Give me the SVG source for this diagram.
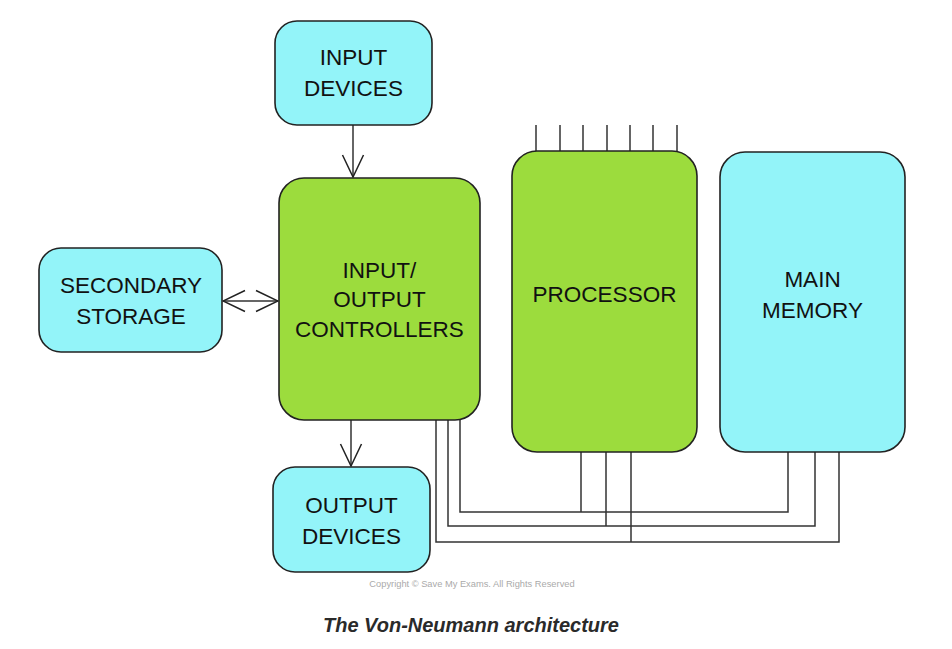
<svg xmlns="http://www.w3.org/2000/svg" width="952" height="649" viewBox="0 0 952 649">
<defs>
<style>
.cyan{fill:#93F4F9;stroke:#222;stroke-width:1.6}
.green{fill:#9CDC3D;stroke:#222;stroke-width:1.6}
.lbl{font-family:"Liberation Sans",Arial,sans-serif;font-size:22.5px;fill:#111;text-anchor:middle}
.wire{fill:none;stroke:#333;stroke-width:1.5}
</style>
<marker id="arr" viewBox="0 0 24 24" markerWidth="24" markerHeight="24" refX="23" refY="12" orient="auto-start-reverse" markerUnits="userSpaceOnUse">
<path d="M1,1.5 L23,12 L1,22.5" fill="none" stroke="#222" stroke-width="1.5"/>
</marker>
</defs>
<rect width="952" height="649" fill="#fff"/>

<g id="connectors">
<line class="wire" x1="353" y1="125" x2="353" y2="177" marker-end="url(#arr)"/>
<line class="wire" x1="351" y1="420" x2="351" y2="466" marker-end="url(#arr)"/>
<line class="wire" x1="223" y1="301" x2="278" y2="301" marker-start="url(#arr)" marker-end="url(#arr)"/>
<path class="wire" d="M460 420 V512 H788 V452"/>
<path class="wire" d="M448 420 V526 H815 V452"/>
<path class="wire" d="M436 420 V542 H839 V452"/>
<path class="wire" d="M581 452 V512 M606 452 V526 M631 452 V542"/>
<path class="wire" d="M536 125 V152 M560 125 V152 M583 125 V152 M607 125 V152 M630 125 V152 M653 125 V152 M677 125 V152"/>
</g>

<g id="input-devices">
<rect class="cyan" x="275" y="21" width="157" height="104" rx="22"/>
<text class="lbl" x="353.5" y="65">INPUT</text>
<text class="lbl" x="353.5" y="96">DEVICES</text>
</g>

<g id="io-controllers">
<rect class="green" x="279" y="178" width="201" height="242" rx="25"/>
<text class="lbl" x="379.5" y="278">INPUT/</text>
<text class="lbl" x="379.5" y="307">OUTPUT</text>
<text class="lbl" x="379.5" y="337">CONTROLLERS</text>
</g>

<g id="secondary-storage">
<rect class="cyan" x="39" y="248" width="183" height="104" rx="22"/>
<text class="lbl" x="131" y="293">SECONDARY</text>
<text class="lbl" x="131" y="324">STORAGE</text>
</g>

<g id="output-devices">
<rect class="cyan" x="273" y="467" width="157" height="105" rx="22"/>
<text class="lbl" x="351.5" y="513">OUTPUT</text>
<text class="lbl" x="351.5" y="544">DEVICES</text>
</g>

<g id="processor">
<rect class="green" x="512" y="151" width="185" height="301" rx="25"/>
<text class="lbl" x="604.5" y="302">PROCESSOR</text>
</g>

<g id="main-memory">
<rect class="cyan" x="720" y="152" width="185" height="300" rx="25"/>
<text class="lbl" x="812.5" y="287">MAIN</text>
<text class="lbl" x="812.5" y="318">MEMORY</text>
</g>

<text x="472" y="587" font-family="'Liberation Sans',Arial,sans-serif" font-size="9.3" fill="#aaa" text-anchor="middle">Copyright © Save My Exams. All Rights Reserved</text>
<text x="471" y="632" font-family="'Liberation Sans',Arial,sans-serif" font-size="20" font-weight="bold" font-style="italic" fill="#2a2a2a" text-anchor="middle">The Von-Neumann architecture</text>
</svg>
